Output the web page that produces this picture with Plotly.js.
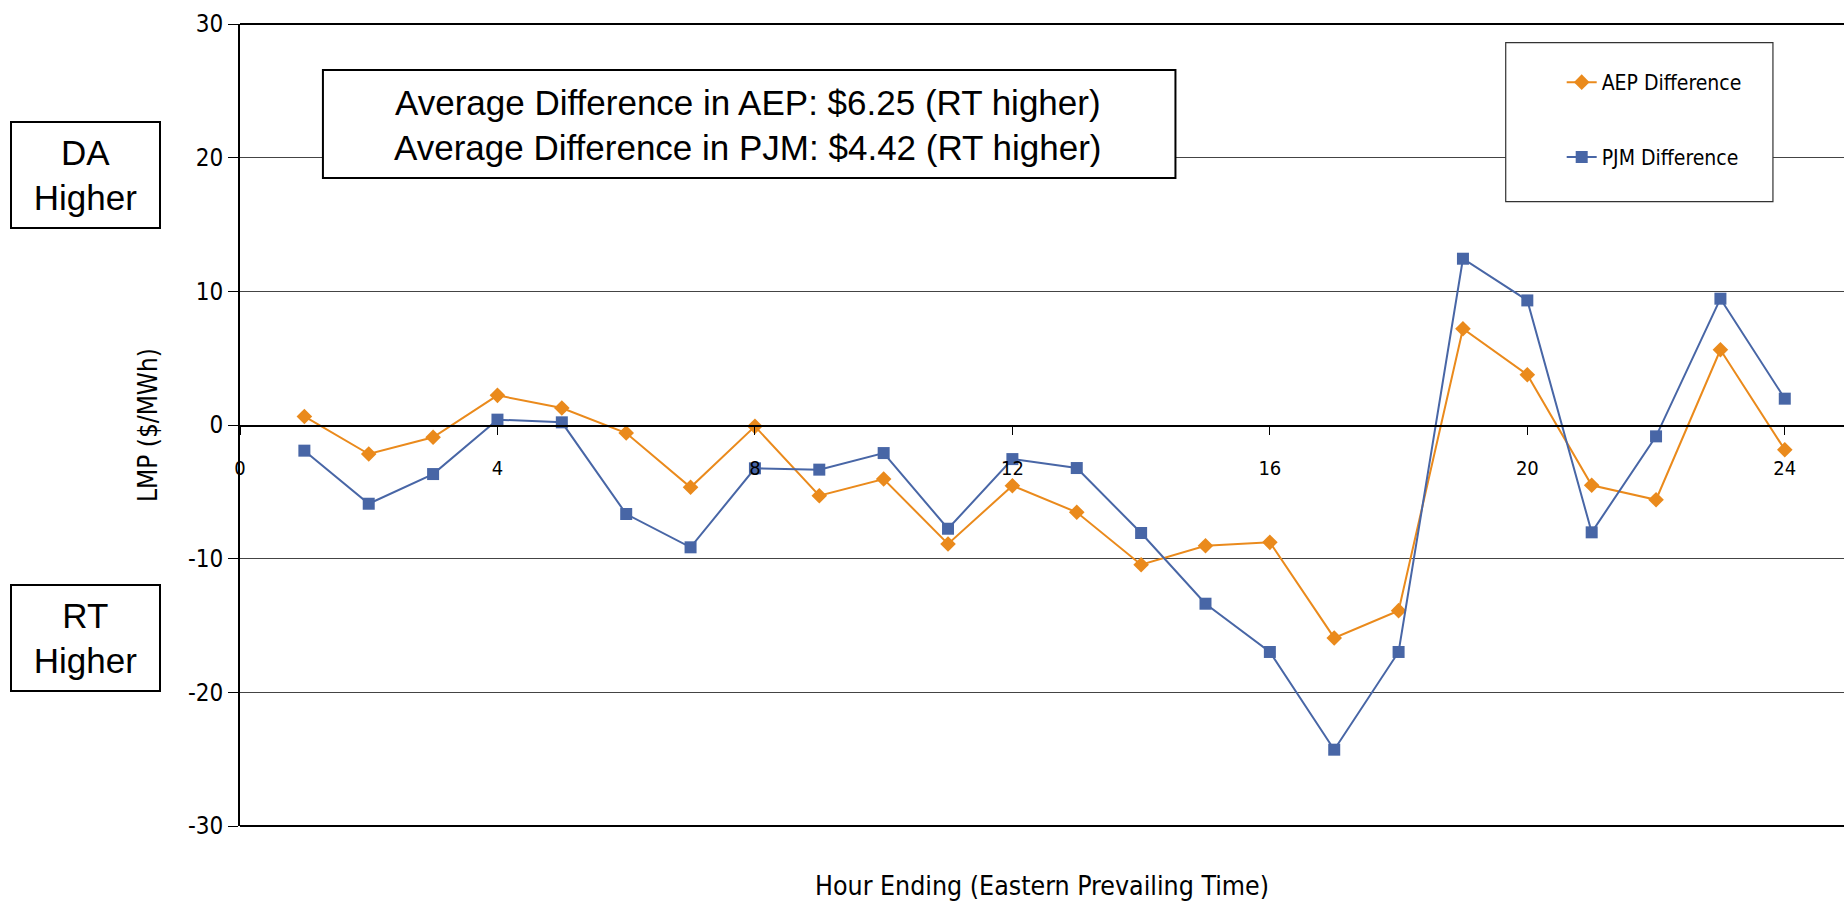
<!DOCTYPE html>
<html>
<head>
<meta charset="utf-8">
<script src="https://cdn.plot.ly/plotly-3.0.1.min.js"></script>
<style>
  html, body { margin: 0; padding: 0; background: #fff; overflow: hidden; }
  #chart { width: 1844px; height: 907px; }
</style>
</head>
<body>
<div id="chart"></div>
<script>
// ---- Data ----
const hours = [1, 2, 3, 4, 5, 6, 7, 8, 9, 10, 11, 12, 13, 14, 15, 16, 17, 18, 19, 20, 21, 22, 23, 24];
const aepDiff = [0.64, -2.17, -0.92, 2.22, 1.27, -0.6, -4.66, -0.1, -5.29, -4.04, -8.9, -4.54,
                 -6.53, -10.45, -9.03, -8.78, -15.93, -13.89, 7.2, 3.76, -4.51, -5.59, 5.63, -1.85];
const pjmDiff = [-1.92, -5.89, -3.67, 0.4, 0.2, -6.66, -9.15, -3.24, -3.34, -2.1, -7.76, -2.55,
                 -3.22, -8.08, -13.37, -16.98, -24.29, -16.98, 12.44, 9.32, -8.03, -0.85, 9.45, 1.97];
const seriesNames = ['AEP Difference', 'PJM Difference'];
const yTickVals = [-30, -20, -10, 0, 10, 20, 30];
const yTickText = ['-30', '-20', '-10', '0', '10', '20', '30'];
const xTitle = 'Hour Ending (Eastern Prevailing Time)';
const yTitle = 'LMP ($/MWh)';
const avgText = ['Average Difference in AEP: $6.25 (RT higher)', 'Average Difference in PJM: $4.42 (RT higher)'];
const sideLabels = ['DA<br>Higher', 'RT<br>Higher'];

// ---- Style ----
const NARROW = "'DejaVu Sans Condensed', 'Liberation Sans Narrow', 'Arial Narrow', sans-serif";
const REG = "'Liberation Sans', Arial, sans-serif";
const ORANGE = '#EA8A1C';
const BLUE = '#4866A6';

const traces = [
  {
    x: hours, y: aepDiff, name: seriesNames[0], type: 'scatter', mode: 'lines+markers',
    legendgroup: 'a',
    line: { color: ORANGE, width: 2 },
    marker: { symbol: 'diamond', size: 12, color: ORANGE }
  },
  {
    x: hours, y: pjmDiff, name: seriesNames[1], type: 'scatter', mode: 'lines+markers',
    legendgroup: 'b',
    line: { color: BLUE, width: 2 },
    marker: { symbol: 'square', size: 12, color: BLUE }
  }
];

const layout = {
  width: 1844, height: 907,
  margin: { l: 240, r: 0, t: 24, b: 81, pad: 0 },
  paper_bgcolor: '#fff', plot_bgcolor: '#fff',
  font: { family: NARROW, color: '#000' },
  xaxis: {
    range: [0, 24.92], tick0: 0, dtick: 4,
    anchor: 'free', position: 0.5,
    showline: true, linecolor: '#000', linewidth: 1.5,
    ticks: 'outside', ticklen: 8, tickwidth: 1, tickcolor: '#000',
    ticklabelstandoff: 16,
    showgrid: false, zeroline: false,
    tickfont: { family: NARROW, size: 20, color: '#000' },
    title: { text: xTitle, font: { family: NARROW, size: 26.5, color: '#000' }, standoff: 398 }
  },
  yaxis: {
    range: [-30, 30], tickmode: 'array', tickvals: yTickVals, ticktext: yTickText,
    showline: true, linecolor: '#000', linewidth: 2,
    ticks: 'outside', ticklen: 10, tickwidth: 1, tickcolor: '#000',
    showgrid: true, gridcolor: '#444', gridwidth: 1,
    zeroline: false,
    tickfont: { family: NARROW, size: 24, color: '#000' },
    title: { text: yTitle, font: { family: NARROW, size: 26, color: '#000' }, standoff: 23 }
  },
  showlegend: true,
  legend: {
    x: 0.824, y: 0.9526, xanchor: 'left', yanchor: 'top',
    bgcolor: 'rgba(0,0,0,0)', borderwidth: 0,
    traceorder: 'grouped', tracegroupgap: 44.5,
    font: { family: NARROW, size: 21, color: '#000' }
  },
  shapes: [
    // top and bottom border of plot area
    { type: 'line', xref: 'paper', yref: 'paper', x0: 0, x1: 1, y0: 1, y1: 1, line: { color: '#000', width: 2 } },
    { type: 'line', xref: 'paper', yref: 'paper', x0: 0, x1: 1, y0: 0, y1: 0, line: { color: '#000', width: 2 } },
    // legend frame
    { type: 'rect', xref: 'paper', yref: 'paper', x0: 0.7891, x1: 0.9557, y0: 0.7784, y1: 0.9767,
      fillcolor: '#fff', line: { color: '#333', width: 1.2 }, layer: 'above' },
    // average-difference frame
    { type: 'rect', xref: 'paper', yref: 'paper', x0: 0.0517, x1: 0.5832, y0: 0.808, y1: 0.9426,
      fillcolor: '#fff', line: { color: '#000', width: 2 }, layer: 'above' }
  ],
  annotations: [
    {
      xref: 'paper', yref: 'paper', x: 0.3166, y: 0.9015, xanchor: 'center', yanchor: 'middle',
      text: avgText[0], showarrow: false,
      font: { family: REG, size: 35, color: '#000' }
    },
    {
      xref: 'paper', yref: 'paper', x: 0.3166, y: 0.8454, xanchor: 'center', yanchor: 'middle',
      text: avgText[1], showarrow: false,
      font: { family: REG, size: 35, color: '#000' }
    },
    {
      xref: 'paper', yref: 'paper', x: -0.0963, y: 0.8117, xanchor: 'center', yanchor: 'middle',
      text: sideLabels[0], showarrow: false, align: 'center',
      font: { family: REG, size: 35, color: '#000' },
      bgcolor: '#fff', bordercolor: '#000', borderwidth: 2, borderpad: 0,
      width: 147, height: 104
    },
    {
      xref: 'paper', yref: 'paper', x: -0.0963, y: 0.2344, xanchor: 'center', yanchor: 'middle',
      text: sideLabels[1], showarrow: false, align: 'center',
      font: { family: REG, size: 35, color: '#000' },
      bgcolor: '#fff', bordercolor: '#000', borderwidth: 2, borderpad: 0,
      width: 147, height: 104
    }
  ]
};

Plotly.newPlot('chart', traces, layout, { displayModeBar: false, staticPlot: true });
</script>
</body>
</html>
